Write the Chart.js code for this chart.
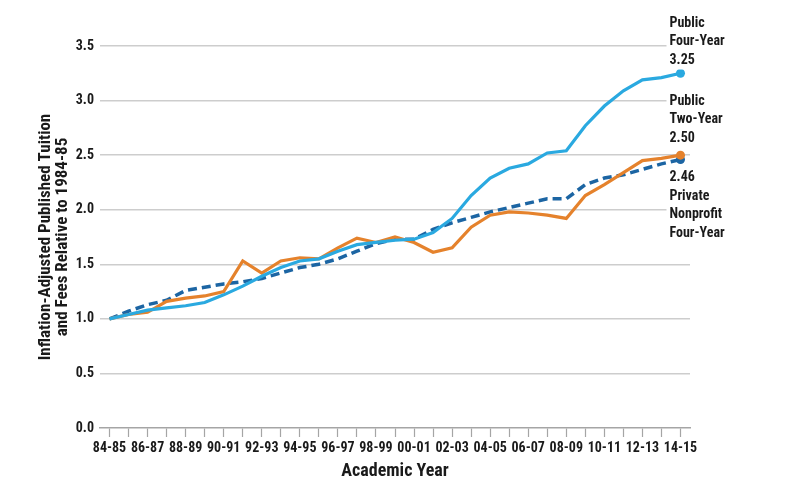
<!DOCTYPE html>
<html>
<head>
<meta charset="utf-8">
<script src="https://cdn.jsdelivr.net/npm/chart.js@4.4.1/dist/chart.umd.min.js"></script>
<style>
  html, body { margin: 0; padding: 0; background: #ffffff; }
  #wrap { width: 801px; height: 497px; position: relative; }
</style>
</head>
<body>
<div id="wrap"><canvas id="c" width="801" height="497"></canvas></div>
<script>
const categories = ["84-85","85-86","86-87","87-88","88-89","89-90","90-91","91-92","92-93","93-94",
  "94-95","95-96","96-97","97-98","98-99","99-00","00-01","01-02","02-03","03-04",
  "04-05","05-06","06-07","07-08","08-09","09-10","10-11","11-12","12-13","13-14","14-15"];

const publicFourYear = [1.00,1.04,1.08,1.10,1.12,1.15,1.22,1.30,1.39,1.47,
  1.53,1.55,1.62,1.68,1.70,1.72,1.73,1.79,1.92,2.13,
  2.29,2.38,2.42,2.52,2.54,2.77,2.95,3.09,3.19,3.21,3.25];

const publicTwoYear = [1.00,1.04,1.06,1.16,1.19,1.21,1.25,1.53,1.42,1.53,
  1.56,1.55,1.65,1.74,1.70,1.75,1.70,1.61,1.65,1.84,
  1.95,1.98,1.97,1.95,1.92,2.13,2.23,2.34,2.45,2.47,2.50];

const privateNonprofit = [1.00,1.07,1.13,1.17,1.26,1.29,1.32,1.34,1.37,1.42,
  1.47,1.50,1.55,1.62,1.69,1.73,1.73,1.82,1.88,1.93,
  1.98,2.02,2.06,2.10,2.10,2.23,2.29,2.32,2.37,2.42,2.46];

const yTicks = [0.0,0.5,1.0,1.5,2.0,2.5,3.0,3.5];

const seriesNames = {
  four: ["Public", "Four-Year"],
  two: ["Public", "Two-Year"],
  priv: ["Private", "Nonprofit", "Four-Year"]
};

const COLOR_FOUR = "#2aa9e0";
const COLOR_TWO = "#e5822c";
const COLOR_PRIV = "#1c65a3";
const FONT = "'Roboto Condensed', 'Open Sans Condensed', 'DejaVu Sans Condensed', sans-serif";

const lastIdx = categories.length - 1;
const endOnly = (ctx) => ctx.dataIndex === lastIdx ? 4.5 : 0;

const endLabels = {
  id: 'endLabels',
  afterDatasetsDraw(chart) {
    const ctx = chart.ctx;
    const xs = chart.scales.x, ys = chart.scales.y;
    const x0 = xs.getPixelForValue(lastIdx) - 11;
    const lh = 18.5;
    ctx.save();
    ctx.font = "bold 14px " + FONT;
    ctx.textBaseline = 'middle';
    ctx.textAlign = 'left';
    const drawBlock = (lines, yStart) => {
      let w = 0;
      lines.forEach(l => { w = Math.max(w, ctx.measureText(l).width); });
      ctx.fillStyle = '#ffffff';
      ctx.fillRect(x0 - 3, yStart - lh / 2, w + 8, lh * lines.length);
      ctx.fillStyle = '#1a1a1a';
      lines.forEach((l, k) => ctx.fillText(l, x0, yStart + k * lh));
    };
    const yFour = ys.getPixelForValue(publicFourYear[lastIdx]);
    const yTwo = ys.getPixelForValue(publicTwoYear[lastIdx]);
    const yPriv = ys.getPixelForValue(privateNonprofit[lastIdx]);
    drawBlock([...seriesNames.four, publicFourYear[lastIdx].toFixed(2)], yFour - 50);
    drawBlock([...seriesNames.two, publicTwoYear[lastIdx].toFixed(2)], yTwo - 54);
    drawBlock([privateNonprofit[lastIdx].toFixed(2), ...seriesNames.priv], yPriv + 18);
    ctx.restore();
  }
};

new Chart(document.getElementById('c'), {
  type: 'line',
  data: {
    labels: categories,
    datasets: [
      {
        label: 'Private Nonprofit Four-Year',
        data: privateNonprofit,
        borderColor: COLOR_PRIV,
        backgroundColor: COLOR_PRIV,
        borderWidth: 3.5,
        borderDash: [9, 5],
        pointRadius: endOnly,
        pointHoverRadius: endOnly,
        pointBorderWidth: 0,
        tension: 0,
        order: 3
      },
      {
        label: 'Public Two-Year',
        data: publicTwoYear,
        borderColor: COLOR_TWO,
        backgroundColor: COLOR_TWO,
        borderWidth: 3.2,
        pointRadius: endOnly,
        pointHoverRadius: endOnly,
        pointBorderWidth: 0,
        tension: 0,
        order: 2
      },
      {
        label: 'Public Four-Year',
        data: publicFourYear,
        borderColor: COLOR_FOUR,
        backgroundColor: COLOR_FOUR,
        borderWidth: 3.2,
        pointRadius: endOnly,
        pointHoverRadius: endOnly,
        pointBorderWidth: 0,
        tension: 0,
        order: 1
      }
    ]
  },
  options: {
    responsive: false,
    animation: false,
    devicePixelRatio: 1,
    layout: { padding: { top: 46, right: 111, bottom: 0, left: 0 } },
    plugins: {
      legend: { display: false },
      tooltip: { enabled: false }
    },
    scales: {
      x: {
        type: 'category',
        offset: true,
        grid: {
          display: true,
          drawOnChartArea: false,
          drawTicks: true,
          tickLength: 9,
          tickWidth: 1.2,
          tickColor: '#a5a5a5',
          offset: false
        },
        border: { display: true, color: '#a5a5a5', width: 1.5 },
        ticks: {
          autoSkip: false,
          maxRotation: 0,
          minRotation: 0,
          padding: 3,
          color: '#1a1a1a',
          font: { family: FONT, size: 14, weight: 'bold' },
          callback: function(val, idx) { return idx % 2 === 0 ? categories[idx] : ''; }
        },
        title: {
          display: true,
          text: 'Academic Year',
          color: '#1a1a1a',
          font: { family: FONT, size: 18, weight: 'bold' },
          padding: { top: 0, bottom: 15 }
        },
        afterFit: function(scale) { scale.height = 69; }
      },
      y: {
        min: 0,
        max: 3.5,
        afterBuildTicks: function(scale) { scale.ticks = yTicks.map(v => ({ value: v })); },
        grid: {
          color: function(ctx) { return ctx.tick && ctx.tick.value === 0 ? 'rgba(0,0,0,0)' : '#cdcdcd'; },
          lineWidth: 1.5,
          drawTicks: false
        },
        border: { display: false },
        ticks: {
          padding: 6,
          color: '#1a1a1a',
          font: { family: FONT, size: 14, weight: 'bold' },
          callback: function(v) { return Number(v).toFixed(1); }
        },
        title: {
          display: true,
          text: ['Inflation-Adjusted Published Tuition', 'and Fees Relative to 1984-85'],
          color: '#1a1a1a',
          font: { family: FONT, size: 17, weight: 'bold', lineHeight: 1.0 },
          padding: { top: 37, bottom: 0 }
        },
        afterFit: function(scale) { scale.width = 100; }
      }
    }
  },
  plugins: [endLabels]
});
</script>
</body>
</html>
